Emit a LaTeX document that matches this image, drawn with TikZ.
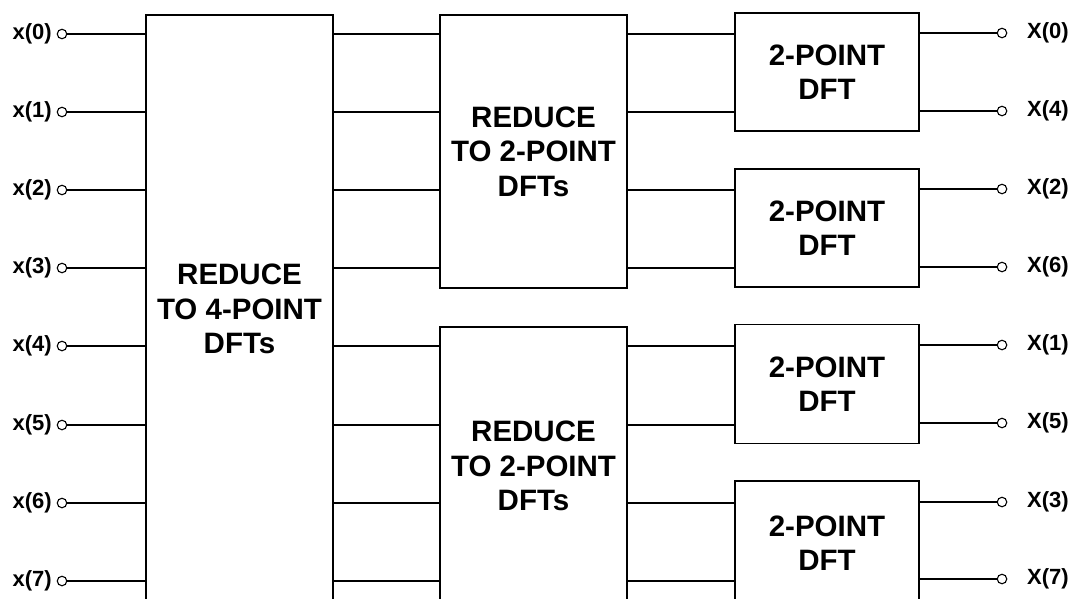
\documentclass[tikz,border=0pt]{standalone}
\usepackage{fontspec}
\setmainfont{Liberation Sans}
\begin{document}
\begin{tikzpicture}[x=1pt,y=-1pt,
  box/.style={draw,line width=1.4pt,inner sep=0pt,align=center,font=\bfseries\fontsize{29.5}{34.5}\selectfont},
  wire/.style={line width=1.3pt},
  term/.style={circle,draw,line width=1.1pt,minimum size=9.5pt,inner sep=0pt,fill=white},
  lab/.style={font=\bfseries\fontsize{22}{26}\selectfont,inner sep=0pt}]
\useasboundingbox (0,0) rectangle (1075,598);
\clip (0,0) rectangle (1075,598);
% blocks
\node[box,minimum width=187pt,minimum height=588pt] (A) at (239.5,309) {REDUCE\\TO 4-POINT\\DFTs};
\node[box,minimum width=187pt,minimum height=273pt] (M1) at (533.5,151.5) {REDUCE\\TO 2-POINT\\DFTs};
\node[box,minimum width=187pt,minimum height=278pt] (M2) at (533.5,466) {REDUCE\\TO 2-POINT\\DFTs};
\node[box,minimum width=184pt,minimum height=118pt] (S1) at (827,72) {2-POINT\\DFT};
\node[box,minimum width=184pt,minimum height=118pt] (S2) at (827,228) {2-POINT\\DFT};
\node[box,minimum width=184pt,minimum height=119pt] (S3) at (827,384) {2-POINT\\DFT};
\node[box,minimum width=184pt,minimum height=124pt] (S4) at (827,543) {2-POINT\\DFT};
% inputs
\foreach \i/\y in {0/34,1/112,2/190,3/268,4/346,5/425,6/503,7/581}{
  \node[lab,anchor=east] (li\i) at (52,\y) {x(\i)};
  \node[term] (i\i) at (62,\y) {};
  \draw[wire] (i\i) -- (A.west |- i\i);
}
% A to middle blocks
\foreach \y in {34,112,190,268}{ \draw[wire] (A.east |- 0,\y) -- (M1.west |- 0,\y); }
\foreach \y in {346,425,503,581}{ \draw[wire] (A.east |- 0,\y) -- (M2.west |- 0,\y); }
% middle to small blocks
\foreach \y in {34,112}{ \draw[wire] (M1.east |- 0,\y) -- (S1.west |- 0,\y); }
\foreach \y in {190,268}{ \draw[wire] (M1.east |- 0,\y) -- (S2.west |- 0,\y); }
\foreach \y in {346,425}{ \draw[wire] (M2.east |- 0,\y) -- (S3.west |- 0,\y); }
\foreach \y in {503,581}{ \draw[wire] (M2.east |- 0,\y) -- (S4.west |- 0,\y); }
% outputs
\foreach \k/\s/\y in {0/S1/33,4/S1/111,2/S2/189,6/S2/267,1/S3/345,5/S3/423,3/S4/502,7/S4/579}{
  \node[term] (o\k) at (1002,\y) {};
  \node[lab,anchor=west] (lo\k) at (1027,\y) {X(\k)};
  \draw[wire] (\s.east |- o\k) -- (o\k);
}
\end{tikzpicture}
\end{document}
